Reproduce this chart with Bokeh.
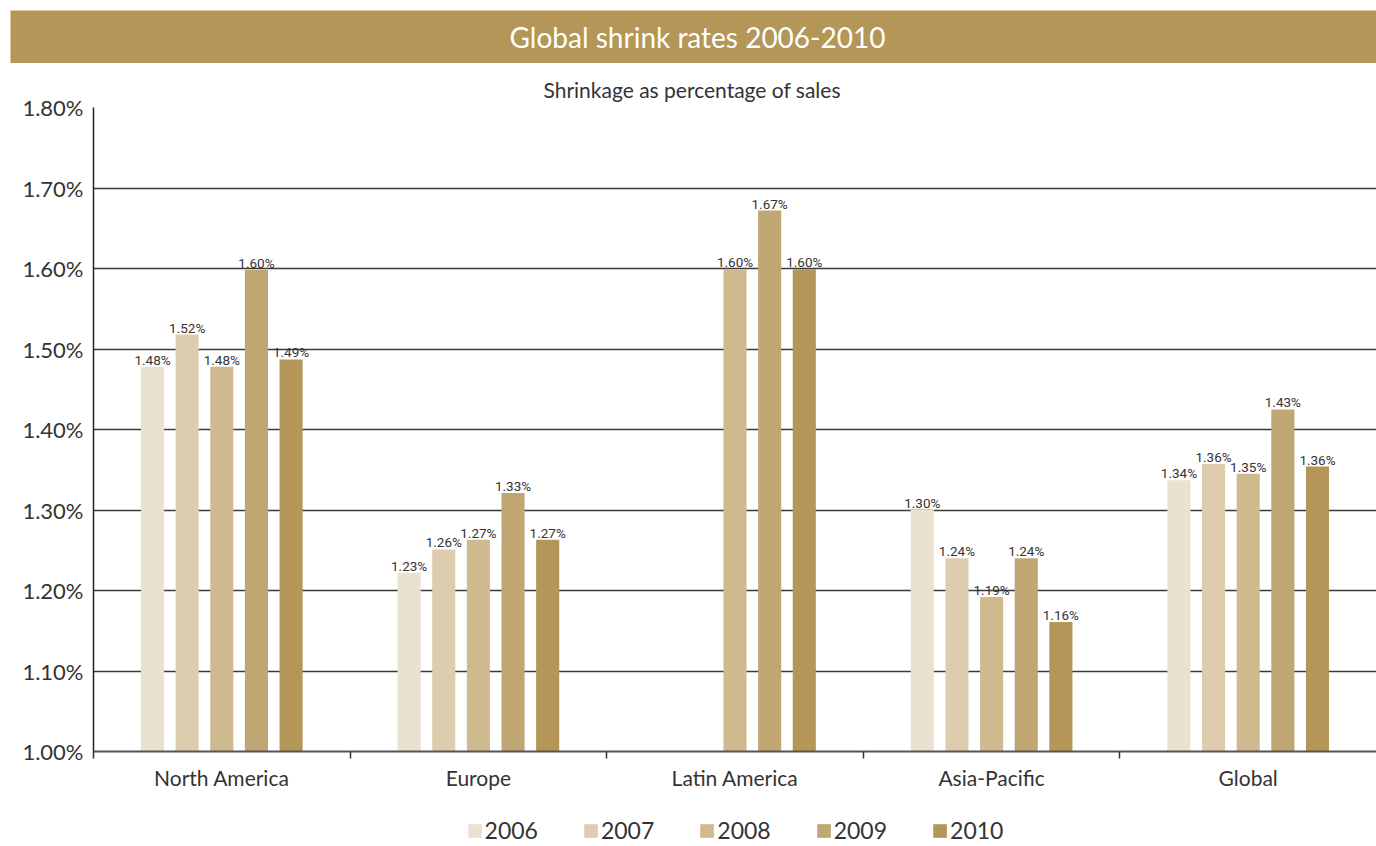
from bokeh.plotting import figure
from bokeh.models import FixedTicker, ColumnDataSource, Range1d, Title, Legend, LegendItem
from bokeh.layouts import column
from bokeh.embed import file_html
from bokeh.resources import INLINE
from bokeh.core.properties import value

# ---------------- data ----------------
title_text = "Global shrink rates 2006-2010"
subtitle_text = "Shrinkage as percentage of sales"
regions = ["North America", "Europe", "Latin America", "Asia-Pacific", "Global"]
years = ["2006", "2007", "2008", "2009", "2010"]

# bar heights (% of sales); None = no data
rate_2006 = [1.478, 1.222, None, 1.300, 1.337]
rate_2007 = [1.518, 1.251, None, 1.240, 1.357]
rate_2008 = [1.478, 1.263, 1.599, 1.192, 1.345]
rate_2009 = [1.598, 1.321, 1.672, 1.240, 1.425]
rate_2010 = [1.487, 1.263, 1.599, 1.161, 1.354]

# printed data labels
label_2006 = ["1.48%", "1.23%", None, "1.30%", "1.34%"]
label_2007 = ["1.52%", "1.26%", None, "1.24%", "1.36%"]
label_2008 = ["1.48%", "1.27%", "1.60%", "1.19%", "1.35%"]
label_2009 = ["1.60%", "1.33%", "1.67%", "1.24%", "1.43%"]
label_2010 = ["1.49%", "1.27%", "1.60%", "1.16%", "1.36%"]

y_ticks = [1.0, 1.1, 1.2, 1.3, 1.4, 1.5, 1.6, 1.7, 1.8]
y_tick_labels = ["1.00%", "1.10%", "1.20%", "1.30%", "1.40%", "1.50%", "1.60%", "1.70%", "1.80%"]

# ---------------- style ----------------
GOLD = "#B39658"
colors = ["#E9E2D1", "#DDCDAE", "#CFB98F", "#BFA673", "#B39658"]
FONT = "Lato"
NARROW = "Roboto"
TXT = "#333333"
PITCH = 0.135
BAR_W = 0.09
BANNER_W = 1366
FRAME_W = 1283
FRAME_H = 644
TOP_BORDER = 44
BOTTOM_BORDER = 42
BANNER_H = 53
LEGEND_H = 846 - 10 - BANNER_H - TOP_BORDER - FRAME_H - BOTTOM_BORDER

# ---------------- banner ----------------
top = figure(width=BANNER_W, height=BANNER_H, x_range=Range1d(0, BANNER_W), y_range=Range1d(0, 1),
             output_backend="svg", toolbar_location=None,
             x_axis_location=None, y_axis_location=None,
             min_border_left=0, min_border_right=0, min_border_top=0, min_border_bottom=0,
             background_fill_color=GOLD, border_fill_color=GOLD, outline_line_color=None,
             margin=(10, 0, 0, 10))
top.grid.visible = False
top.text(x=[BANNER_W / 2 + 4], y=[0.5], text=[title_text], text_align="center",
         text_baseline="middle", text_color="white", text_font=value(FONT),
         text_font_size="28px")

# ---------------- main chart ----------------
p = figure(frame_width=FRAME_W, frame_height=FRAME_H,
           x_range=Range1d(0, len(regions)), y_range=Range1d(1.0, 1.8),
           output_backend="svg", toolbar_location=None,
           min_border_left=93, min_border_right=0, min_border_top=TOP_BORDER,
           min_border_bottom=BOTTOM_BORDER,
           outline_line_color=None, border_fill_color="white")
p.add_layout(Title(text=subtitle_text, align="left", offset=450, text_font=FONT,
                   text_font_size="21px", text_font_style="normal", text_color=TXT,
                   standoff=11), "above")

series = [rate_2006, rate_2007, rate_2008, rate_2009, rate_2010]
labels = [label_2006, label_2007, label_2008, label_2009, label_2010]
for j, (yr, vals, labs, col) in enumerate(zip(years, series, labels, colors)):
    xs, tops, texts = [], [], []
    for i, (v, t) in enumerate(zip(vals, labs)):
        if v is None:
            continue
        xs.append(i + 0.5 + (j - 2) * PITCH)
        tops.append(v)
        texts.append(t)
    src = ColumnDataSource(dict(x=xs, top=tops, text=texts))
    p.vbar(x="x", top="top", bottom=1.0, width=BAR_W, source=src,
           fill_color=col, line_color=None)
    p.text(x="x", y="top", text="text", source=src, text_align="center",
           text_baseline="bottom", y_offset=1, text_color=TXT,
           text_font=value(NARROW), text_font_size="13.5px")

# grid
p.xgrid.visible = False
p.ygrid.ticker = FixedTicker(ticks=y_ticks)
p.ygrid.grid_line_color = "#3a3a3a"
p.ygrid.grid_line_width = 1.7

# y axis
p.yaxis.ticker = FixedTicker(ticks=y_ticks)
p.yaxis.major_label_overrides = {t: l for t, l in zip(y_ticks, y_tick_labels)}
p.yaxis.major_tick_in = 0
p.yaxis.major_tick_out = 0
p.yaxis.minor_tick_line_color = None
p.yaxis.axis_line_color = "#222222"
p.yaxis.axis_line_width = 1.5
p.yaxis.major_label_text_font = FONT
p.yaxis.major_label_text_font_size = "22px"
p.yaxis.major_label_text_color = TXT
p.yaxis.major_label_standoff = 10

# x axis
p.xaxis.ticker = FixedTicker(ticks=[i + 0.5 for i in range(len(regions))],
                             minor_ticks=list(range(len(regions))))
p.xaxis.major_label_overrides = {i + 0.5: r for i, r in enumerate(regions)}
p.xaxis.major_tick_in = 0
p.xaxis.major_tick_out = 0
p.xaxis.minor_tick_in = 0
p.xaxis.minor_tick_out = 7
p.xaxis.minor_tick_line_color = "#333333"
p.xaxis.minor_tick_line_width = 1.5
p.xaxis.axis_line_color = "#555555"
p.xaxis.axis_line_width = 2
p.xaxis.major_label_text_font = FONT
p.xaxis.major_label_text_font_size = "21px"
p.xaxis.major_label_text_color = TXT
p.xaxis.major_label_standoff = 6

# ---------------- legend strip ----------------
leg = figure(width=1376, height=LEGEND_H, x_range=Range1d(0, 1), y_range=Range1d(0, 1),
             output_backend="svg", toolbar_location=None,
             x_axis_location=None, y_axis_location=None,
             min_border_left=93, min_border_right=0, min_border_top=0, min_border_bottom=0,
             outline_line_color=None, border_fill_color="white")
leg.grid.visible = False
items = []
for yr, col in zip(years, colors):
    r = leg.vbar(x=[float("nan")], top=[float("nan")], width=0.1,
                 fill_color=col, line_color=None)
    items.append(LegendItem(label=yr, renderers=[r]))
legend = Legend(items=items, orientation="horizontal", location="bottom_center",
                label_text_font=FONT, label_text_font_size="23px", label_text_color=TXT,
                glyph_width=17, glyph_height=17, label_standoff=2, spacing=44,
                border_line_color=None, background_fill_alpha=0, padding=0, margin=2)
leg.add_layout(legend, "center")

layout = column(top, column(p, leg, spacing=0), spacing=0)
open("out.html", "w").write(file_html(layout, INLINE))
